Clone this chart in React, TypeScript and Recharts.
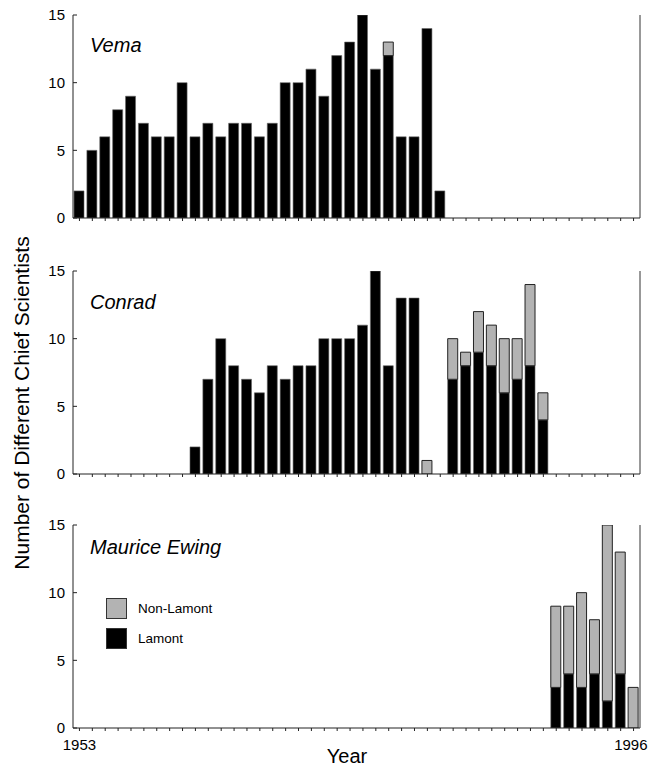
import { Bar, BarChart, XAxis, YAxis } from "recharts";

// years on the x axis, 1953 to 1996
const years = [
  1953, 1954, 1955, 1956, 1957, 1958, 1959, 1960, 1961, 1962, 1963,
  1964, 1965, 1966, 1967, 1968, 1969, 1970, 1971, 1972, 1973, 1974,
  1975, 1976, 1977, 1978, 1979, 1980, 1981, 1982, 1983, 1984, 1985,
  1986, 1987, 1988, 1989, 1990, 1991, 1992, 1993, 1994, 1995, 1996,
];

// Vema, 1953-1981
const vemaStart = 1953;
const vemaLamont = [2, 5, 6, 8, 9, 7, 6, 6, 10, 6, 7, 6, 7, 7, 6, 7, 10, 10, 11, 9, 12, 13, 15, 11, 12, 6, 6, 14, 2];
const vemaNon = [0, 0, 0, 0, 0, 0, 0, 0, 0, 0, 0, 0, 0, 0, 0, 0, 0, 0, 0, 0, 0, 0, 0, 0, 1, 0, 0, 0, 0];

// Conrad, 1962-1989
const conradStart = 1962;
const conradLamont = [2, 7, 10, 8, 7, 6, 8, 7, 8, 8, 10, 10, 10, 11, 15, 8, 13, 13, 0, 0, 7, 8, 9, 8, 6, 7, 8, 4];
const conradNon = [0, 0, 0, 0, 0, 0, 0, 0, 0, 0, 0, 0, 0, 0, 0, 0, 0, 0, 1, 0, 3, 1, 3, 3, 4, 3, 6, 2];

// Maurice Ewing, 1990-1996
const ewingStart = 1990;
const ewingLamont = [3, 4, 3, 4, 2, 4, 0];
const ewingNon = [6, 5, 7, 4, 13, 9, 3];

const yTicks = [0, 5, 10, 15];
const edgeLabels = [1953, 1996];

const FONT = '"Liberation Sans", Arial, Helvetica, sans-serif';
const GREY = "#b3b3b3";

function build(start: number, lamont: number[], non: number[]) {
  return years.map((year) => {
    const i = year - start;
    const l = i >= 0 && i < lamont.length ? lamont[i] : 0;
    const n = i >= 0 && i < non.length ? non[i] : 0;
    return { year, lamont: l || null, non: n || null };
  });
}

const panels = [
  { name: "Vema", top: 0, titleTop: 34, data: build(vemaStart, vemaLamont, vemaNon), labels: false },
  { name: "Conrad", top: 256, titleTop: 35, data: build(conradStart, conradLamont, conradNon), labels: false },
  { name: "Maurice Ewing", top: 510, titleTop: 26, data: build(ewingStart, ewingLamont, ewingNon), labels: true },
];

// year labels: only the first and last, the last one kept inside the page
function renderYearTick(props: any) {
  const { x, y, payload } = props;
  const v = payload.value;
  if (!edgeLabels.includes(v)) return <g />;
  const last = v === edgeLabels[edgeLabels.length - 1];
  return (
    <text
      x={last ? Math.min(x + 16.5, 647.5) : x}
      y={y}
      dy={13}
      textAnchor={last ? "end" : "middle"}
      fill="#000"
      fontFamily={FONT}
      fontSize={15}
    >
      {v}
    </text>
  );
}

function LegendBox() {
  const items = [
    { label: "Non-Lamont", fill: GREY },
    { label: "Lamont", fill: "#000" },
  ];
  return (
    <div style={{ position: "absolute", left: 106, top: 83, fontFamily: FONT, fontSize: 13.5 }}>
      {items.map((it) => (
        <div key={it.label} style={{ display: "flex", alignItems: "center", height: 30 }}>
          <div style={{ width: 19, height: 19, background: it.fill, border: "1px solid #333" }} />
          <span style={{ marginLeft: 11 }}>{it.label}</span>
        </div>
      ))}
    </div>
  );
}

function Panel({ p }: { p: (typeof panels)[number] }) {
  const axisHeight = p.labels ? 28 : 10;
  return (
    <div style={{ position: "absolute", left: 0, top: p.top }}>
      <BarChart
        width={649}
        height={15 + 203 + axisHeight}
        data={p.data}
        margin={{ top: 15, right: 8, left: 33, bottom: 0 }}
        barSize={10}
      >
        <XAxis
          dataKey="year"
          interval={0}
          height={axisHeight}
          tickSize={3}
          tickMargin={6}
          axisLine={{ stroke: "#222" }}
          tickLine={{ stroke: "#222" }}
          tick={p.labels ? renderYearTick : { fontSize: 1 }}
          tickFormatter={p.labels ? undefined : () => ""}
        />
        <XAxis xAxisId="top" dataKey="year" orientation="top" height={0} tick={false} tickLine={false} axisLine={{ stroke: "#333" }} />
        <YAxis
          domain={[0, 15]}
          ticks={yTicks}
          width={40}
          tickSize={-4}
          tickMargin={12}
          axisLine={{ stroke: "#222" }}
          tickLine={{ stroke: "#222" }}
          tick={{ fill: "#000", fontFamily: FONT, fontSize: 15 }}
          allowDataOverflow
        />
        <YAxis yAxisId="right" orientation="right" domain={[0, 15]} width={1} tick={false} tickLine={false} axisLine={{ stroke: "#333" }} />
        <Bar dataKey="lamont" name="Lamont" stackId="a" fill="#000" stroke="#666" strokeWidth={0.6} isAnimationActive={false} />
        <Bar dataKey="non" name="Non-Lamont" stackId="a" fill={GREY} stroke="#222" strokeWidth={1} isAnimationActive={false} />
      </BarChart>
      {p.labels && <LegendBox />}
      <div
        style={{
          position: "absolute",
          left: 90,
          top: p.titleTop,
          fontFamily: FONT,
          fontStyle: "italic",
          fontSize: 20,
          color: "#000",
        }}
      >
        {p.name}
      </div>
    </div>
  );
}

export default function App() {
  return (
    <div style={{ position: "absolute", left: 0, top: 0, width: 649, height: 766, background: "#fff" }}>
      {panels.map((p) => (
        <Panel key={p.name} p={p} />
      ))}
      <div
        style={{
          position: "absolute",
          left: 22,
          top: 403,
          transform: "translate(-50%, -50%) rotate(-90deg)",
          whiteSpace: "nowrap",
          fontFamily: FONT,
          fontSize: 21,
        }}
      >
        Number of Different Chief Scientists
      </div>
      <div
        style={{
          position: "absolute",
          left: 347,
          top: 745,
          transform: "translateX(-50%)",
          fontFamily: FONT,
          fontSize: 20,
        }}
      >
        Year
      </div>
    </div>
  );
}
